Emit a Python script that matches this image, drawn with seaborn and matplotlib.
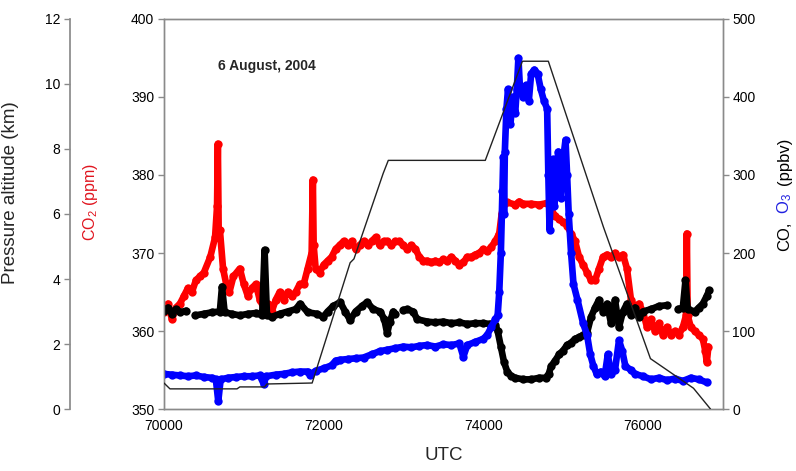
import numpy as np
import pandas as pd
import matplotlib
matplotlib.use("Agg")
import matplotlib.pyplot as plt
import seaborn as sns

# ---------------- data ----------------
co2_t = [70000, 70050, 70100, 70150, 70200, 70250, 70300, 70350, 70400, 70450,
         70500, 70580, 70640, 70665, 70675, 70685, 70700, 70740, 70780, 70820,
         70870, 70950, 71000, 71050, 71100, 71150, 71200, 71250, 71300, 71350,
         71400, 71450, 71500, 71550, 71600, 71650, 71700, 71750, 71800, 71850,
         71865, 71875, 71900, 71950, 72000, 72050, 72100, 72150, 72200, 72250,
         72300, 72350, 72400, 72450, 72500, 72550, 72600, 72650, 72700, 72750,
         72800, 72850, 72900, 72950, 73000, 73050, 73100, 73150, 73200, 73250,
         73300, 73350, 73400, 73450, 73500, 73550, 73600, 73650, 73700, 73750,
         73800, 73850, 73900, 73950, 74000, 74050, 74100, 74150, 74200, 74230,
         74260, 74300, 74400, 74450, 74500, 74600, 74700, 74800, 74850, 74900,
         74950, 75000, 75050, 75100, 75150, 75200, 75250, 75300, 75350, 75400,
         75450, 75500, 75550, 75600, 75650, 75700, 75750, 75800, 75850, 75900,
         75950, 76000, 76050, 76100, 76150, 76200, 76250, 76300, 76350, 76400,
         76450, 76500, 76540, 76550, 76560, 76600, 76650, 76700, 76750, 76780,
         76800, 76820]
co2_v = [362.5, 363.5, 361.5, 363.0, 363.5, 364.5, 365.5, 365.0, 366.5, 367.0,
         367.5, 369.5, 372.0, 376.0, 384.0, 373.0, 373.0, 368.0, 366.0, 365.0,
         367.0, 368.0, 366.0, 364.5, 365.5, 366.0, 364.0, 363.0, 363.5, 362.5,
         364.0, 365.0, 364.0, 365.0, 364.5, 365.0, 366.0, 366.0, 368.0, 370.0,
         379.4, 371.0, 368.0, 367.5, 368.5, 369.0, 369.5, 370.5, 371.0, 371.5,
         371.0, 371.5, 370.5, 371.0, 371.5, 371.0, 371.5, 372.0, 371.0, 371.5,
         371.5, 371.0, 371.5, 371.5, 371.0, 370.5, 371.0, 370.5, 369.5, 369.0,
         369.0, 368.8, 369.0, 368.8, 369.2, 369.0, 369.5, 369.0, 368.5, 368.8,
         369.5, 369.5, 369.8, 370.0, 370.5, 370.2, 370.8, 371.5, 372.5, 375.0,
         376.3, 376.5, 376.2, 376.6, 376.3, 376.3, 376.2, 376.4, 375.5, 374.8,
         374.3, 374.0, 373.5, 372.5, 371.5, 369.5, 368.5, 367.5, 366.5, 366.5,
         368.0, 369.5, 369.8, 369.5, 370.0, 369.5, 369.8, 368.0, 364.0, 363.0,
         363.5, 362.5, 360.5, 361.5, 360.0, 361.0, 359.5, 360.5, 359.5, 360.0,
         359.5, 360.5, 362.0, 372.5, 362.0, 360.5, 360.0, 359.5, 359.0, 357.5,
         356.0, 358.0]

o3_t = [70000, 70100, 70200, 70300, 70400, 70500, 70600, 70650, 70680, 70710,
        70800, 70900, 71000, 71100, 71200, 71250, 71280, 71400, 71500, 71600,
        71700, 71800, 71830, 71900, 72000, 72100, 72150, 72200, 72300, 72400,
        72500, 72600, 72700, 72800, 72900, 73000, 73100, 73200, 73300, 73400,
        73500, 73600, 73700, 73750, 73800, 73900, 74000, 74050, 74100, 74150,
        74180, 74200, 74220, 74240, 74250, 74260, 74270, 74290, 74310, 74340,
        74370, 74400, 74420, 74440, 74460, 74500, 74540, 74570, 74600, 74640,
        74680, 74720, 74760, 74800, 74815, 74830, 74850, 74870, 74890, 74910,
        74940, 74970, 75000, 75030, 75050, 75070, 75100, 75130, 75180, 75250,
        75300, 75340, 75380, 75420, 75470, 75520, 75560, 75600, 75650, 75700,
        75740, 75780, 75850, 75900, 76000, 76100, 76200, 76300, 76400, 76500,
        76600, 76700, 76800]
o3_v = [45, 44, 43, 42, 43, 41, 40, 38, 10, 38,
        40, 41, 42, 42, 43, 32, 42, 44, 45, 47,
        48, 48, 44, 49, 52, 56, 62, 63, 64, 65,
        66, 70, 74, 76, 78, 80, 79, 81, 82, 80,
        83, 82, 84, 67, 82, 86, 90, 95, 105, 115,
        120, 150, 200, 280, 323, 250, 330, 385, 410, 365,
        400, 380, 410, 450, 410, 400, 415, 395, 430, 435,
        430, 410, 395, 385, 300, 230, 290, 320, 260, 300,
        330, 270, 320, 345, 300, 250, 200, 160, 140, 110,
        95, 70, 55, 45, 48, 42, 70, 45, 50, 88,
        75, 55, 50, 45, 42, 38, 40, 37, 39, 36,
        40, 38, 34]

# CO in four runs separated by data gaps
co_t_runs = [
    [70000, 70050, 70100, 70150, 70200, 70280],
    [70390, 70500, 70600, 70700, 70727, 70760, 70850, 70950, 71050, 71150,
     71230, 71260, 71290, 71350, 71450, 71550, 71650, 71705, 71800, 71918,
     71994, 72050, 72120, 72207, 72270, 72332, 72400, 72480, 72545, 72620,
     72709, 72760, 72796, 72830, 72872, 72895],
    [73000, 73050, 73120, 73173, 73300, 73400, 73500, 73600, 73700, 73800,
     73900, 74000, 74090, 74150, 74180, 74220, 74260, 74300, 74350, 74400,
     74500, 74600, 74700, 74780, 74820, 74850, 74900, 74950, 75000, 75050,
     75100, 75150, 75200, 75250, 75300, 75350, 75400, 75450, 75500, 75550,
     75600, 75650, 75700, 75750, 75800, 75850, 75900, 75950, 76000, 76100,
     76200, 76300],
    [76440, 76500, 76533, 76560, 76650, 76700, 76750, 76800, 76830],
]
co_v_runs = [
    [126, 130, 122, 128, 124, 126],
    [120, 122, 124, 125, 157, 124, 122, 120, 122, 123,
     120, 204, 120, 118, 122, 125, 128, 135, 124, 122,
     118, 125, 132, 137, 125, 114, 125, 132, 137, 128,
     125, 115, 97, 112, 125, 122],
    [127, 128, 125, 115, 112, 111, 112, 110, 111, 109,
     110, 110, 109, 108, 100, 80, 60, 48, 42, 40,
     38, 38, 40, 40, 45, 55, 62, 70, 75, 82,
     85, 90, 92, 95, 98, 118, 130, 140, 125, 135,
     110, 140, 105, 125, 135, 120, 130, 118, 125, 128,
     132, 133],
    [128, 130, 165, 128, 125, 130, 135, 145, 152],
]

alt_t = [70000, 70075, 70915, 70950, 71260, 71290, 71856, 72332, 72380, 72746,
         72810, 74025, 74490, 74815, 75505, 76094, 76633, 76846]
alt_km = [0.80, 0.62, 0.62, 0.68, 0.68, 0.77, 0.80, 4.50, 4.62, 7.25,
          7.65, 7.65, 10.70, 10.70, 5.60, 1.55, 0.64, 0.0]

x_ticks = [70000, 72000, 74000, 76000]
co2_ticks = [350, 360, 370, 380, 390, 400]
ppbv_ticks = [0, 100, 200, 300, 400, 500]
km_ticks = [0, 2, 4, 6, 8, 10, 12]

# ---------------- style ----------------
sns.set_theme(style="white")
plt.rcParams["font.family"] = ["Liberation Sans", "DejaVu Sans"]
plt.rcParams["mathtext.default"] = "regular"
GREY = "#8a8a8a"

fig = plt.figure(figsize=(7.96, 4.71), dpi=100)
ax = fig.add_axes([0.206, 0.1316, 0.702, 0.8281])
ax2 = ax.twinx()
ax3 = ax.twinx()

df_co2 = pd.DataFrame({"t": co2_t, "v": co2_v})
df_o3 = pd.DataFrame({"t": o3_t, "v": o3_v})
df_co = pd.concat(
    [pd.DataFrame({"t": t, "v": v, "seg": i})
     for i, (t, v) in enumerate(zip(co_t_runs, co_v_runs))],
    ignore_index=True)
df_alt = pd.DataFrame({"t": alt_t, "v": alt_km})

mk = dict(marker="o", markersize=6, markeredgewidth=0, linewidth=4.8)
sns.lineplot(data=df_co2, x="t", y="v", ax=ax, color="#ff0000", **mk)
sns.lineplot(data=df_co, x="t", y="v", units="seg", estimator=None, ax=ax2,
             color="black", **mk)
sns.lineplot(data=df_o3, x="t", y="v", ax=ax2, color="#0000ff", **mk)
sns.lineplot(data=df_alt, x="t", y="v", ax=ax3, color="#222222", linewidth=1.0)

ax.set_xlim(70000, 77000)
ax.set_ylim(350, 400)
ax2.set_ylim(0, 500)
ax3.set_ylim(0, 12)
ax.set_xticks(x_ticks)
ax.set_yticks(co2_ticks)
ax2.set_yticks(ppbv_ticks)
ax3.set_yticks(km_ticks)

for a in (ax, ax2):
    for s in a.spines.values():
        s.set_color(GREY)
        s.set_linewidth(1.0)
for s in ["top", "right", "bottom"]:
    ax3.spines[s].set_visible(False)
ax3.spines["left"].set_visible(True)
ax3.spines["left"].set_position(("axes", -0.168))
ax3.spines["left"].set_color(GREY)
ax3.yaxis.set_ticks_position("left")
ax3.yaxis.set_label_position("left")

for a in (ax, ax2, ax3):
    a.tick_params(direction="out", length=4, width=1, color=GREY,
                  labelsize=10, labelcolor="black", pad=3)
    a.set_xlabel("")
    a.set_ylabel("")

ax.set_xlabel("UTC", fontsize=13.5, labelpad=10)
ax.set_ylabel("CO$_2$ (ppm)", color="#e0141e", fontsize=11.5)
ax.yaxis.set_label_coords(-0.114, 0.53)
ax3.set_ylabel("Pressure altitude (km)", fontsize=13.5)
ax3.yaxis.set_label_coords(-0.259, 0.554)

# right multi-coloured label  "CO, O3 (ppbv)"
ax2.text(1.111, 0.443, "CO,", rotation=90, transform=ax2.transAxes,
         ha="center", va="center", fontsize=12, color="black")
ax2.text(1.111, 0.526, "O$_3$", rotation=90, transform=ax2.transAxes,
         ha="center", va="center", fontsize=12, color="#2020e0")
ax2.text(1.111, 0.636, "(ppbv)", rotation=90, transform=ax2.transAxes,
         ha="center", va="center", fontsize=12, color="black")

ax.text(0.097, 0.88, "6 August, 2004", transform=ax.transAxes,
        fontsize=10, fontweight="bold", ha="left", va="center")

fig.savefig("out.png", dpi=100)
